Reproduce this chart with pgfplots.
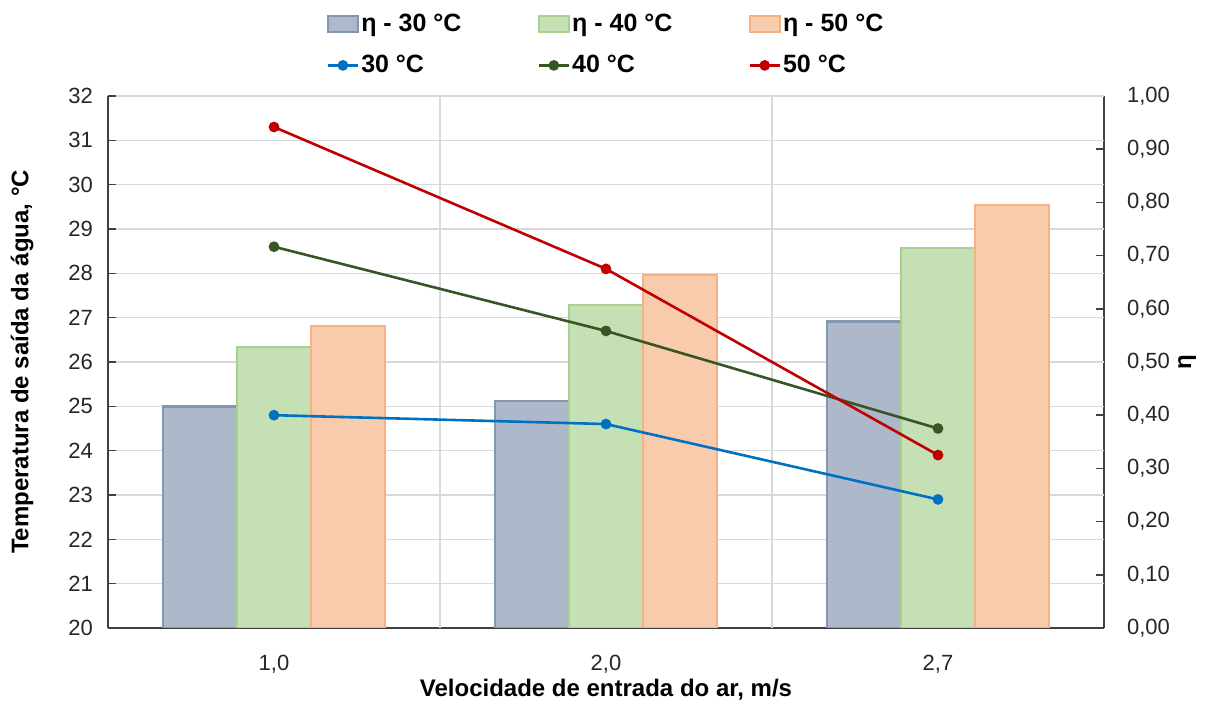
\documentclass[border=0pt]{standalone}
\usepackage{pgfplots}
\pgfplotsset{compat=1.18}
\usepackage{fontspec}
\setmainfont{Liberation Sans}
\definecolor{bAfill}{HTML}{ADB9CA}
\definecolor{bAdraw}{HTML}{8497B0}
\definecolor{bBfill}{HTML}{C5E0B4}
\definecolor{bBdraw}{HTML}{A9D18E}
\definecolor{bCfill}{HTML}{F8CBAD}
\definecolor{bCdraw}{HTML}{F4B183}
\definecolor{lA}{HTML}{0070C0}
\definecolor{lB}{HTML}{375623}
\definecolor{lC}{HTML}{C00000}
\definecolor{gridc}{HTML}{D9D9D9}
\definecolor{axisc}{HTML}{404040}
\definecolor{tickc}{HTML}{262626}
\pgfplotsset{
  barleg/.style={legend image code/.code={\draw[##1] (0pt,-4pt) rectangle (15pt,4pt);}},
  common/.style={
    at={(0,0)}, anchor=south west,
    scale only axis, width=498pt, height=266pt,
    xmin=-0.5, xmax=2.5,
    tick align=inside,
    /pgf/number format/assume math mode=true,
    tick label style={font=\fontsize{11}{13}\selectfont, text=tickc},
    label style={font=\bfseries\fontsize{12}{14}\selectfont, text=black},
    axis line style={axisc, line width=0.8pt},
    major tick length=4pt,
    tick style={axisc, line width=0.8pt},
  }
}
\begin{document}
\begin{tikzpicture}
\path[use as bounding box] (-54pt,-38.5pt) rectangle (549.5pt,314pt);
% Bars: right axis (eta), x axis, grid
\begin{axis}[common,
  ymin=0, ymax=1,
  axis y line*=right, axis x line*=bottom,
  ybar=0pt, bar width=37pt,
  xtick={0,1,2}, xticklabels={{1,0},{2,0},{2,7}},
  x tick label style={yshift=-6pt},
  xtick style={draw=none},
  extra x ticks={0.5,1.5}, extra x tick labels={},
  extra x tick style={xmajorgrids=true, tick style={draw=axisc, line width=0.8pt}},
  ytick={0,0.1,...,1.01},
  y tick label style={xshift=8pt, /pgf/number format/.cd, fixed, fixed zerofill, precision=2, use comma},
  extra y ticks={0.083333,0.166667,0.25,0.333333,0.416667,0.5,0.583333,0.666667,0.75,0.833333,0.916667,1},
  extra y tick labels={},
  extra y tick style={ymajorgrids=true, major tick length=0pt},
  major grid style={gridc, line width=0.8pt},
  ylabel={η},
  ylabel style={at={(axis description cs:1.0834,0.5)}, anchor=center, rotate=0},
  xlabel={Velocidade de entrada do ar, m/s},
  xlabel style={at={(axis description cs:0.5,0)}, yshift=-31pt, anchor=center},
]
\addplot[fill=bAfill, draw=bAdraw, line width=1.2pt] coordinates {(0,0.4167) (1,0.427) (2,0.576)};
\addplot[fill=bBfill, draw=bBdraw, line width=1.2pt] coordinates {(0,0.528) (1,0.607) (2,0.714)};
\addplot[fill=bCfill, draw=bCdraw, line width=1.2pt] coordinates {(0,0.568) (1,0.664) (2,0.795)};
\end{axis}
% Lines: left axis (temperature)
\begin{axis}[common,
  ymin=20, ymax=32,
  axis y line*=left, axis x line=none,
  ytick={20,21,...,32},
  y tick label style={xshift=-4pt},
  ylabel={Temperatura de saída da água, °C},
  ylabel style={at={(axis description cs:-0.0863,0.5)}, anchor=center},
  legend columns=3,
  legend cell align=left,
  legend image code/.code={\draw[mark repeat=2,mark phase=2,#1] plot coordinates {(0pt,0pt) (7.5pt,0pt) (15pt,0pt)};},
  legend style={draw=none, fill=none, at={(axis description cs:0.5,1.03)}, anchor=south,
    font=\bfseries\fontsize{12.5}{15}\selectfont,
    /tikz/every even column/.append style={column sep=37pt},
    row sep=6.5pt, inner sep=0pt,
    nodes={inner xsep=1pt}},
]
\addlegendimage{barleg, fill=bAfill, draw=bAdraw, line width=1.2pt}
\addlegendentry{η - 30 °C}
\addlegendimage{barleg, fill=bBfill, draw=bBdraw, line width=1.2pt}
\addlegendentry{η - 40 °C}
\addlegendimage{barleg, fill=bCfill, draw=bCdraw, line width=1.2pt}
\addlegendentry{η - 50 °C}
\addplot[lA, line width=1.3pt, mark=*, mark size=2pt] coordinates {(0,24.8) (1,24.6) (2,22.9)};
\addlegendentry{30 °C}
\addplot[lB, line width=1.3pt, mark=*, mark size=2pt] coordinates {(0,28.6) (1,26.7) (2,24.5)};
\addlegendentry{40 °C}
\addplot[lC, line width=1.3pt, mark=*, mark size=2pt] coordinates {(0,31.3) (1,28.1) (2,23.9)};
\addlegendentry{50 °C}
\end{axis}
\end{tikzpicture}
\end{document}
